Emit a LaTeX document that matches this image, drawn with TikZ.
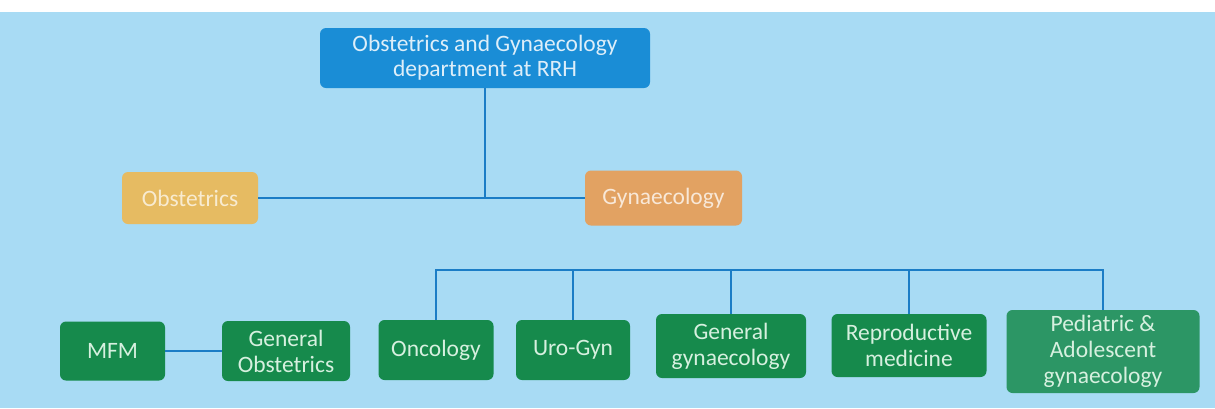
\documentclass[tikz,border=0pt]{standalone}
\usepackage{fontspec}
\setmainfont{Carlito}
\definecolor{bgblue}{HTML}{A8DBF4}
\definecolor{topblue}{HTML}{1A8DD6}
\definecolor{linec}{HTML}{1B7DC6}
\definecolor{obsc}{HTML}{E6BB62}
\definecolor{gync}{HTML}{E2A262}
\definecolor{greenc}{HTML}{168A4C}
\definecolor{greentext}{HTML}{D6F0DF}
\begin{document}
\begin{tikzpicture}[x=1pt,y=-1pt,
  box/.style={rounded corners=6pt, align=center, inner sep=1pt, font=\fontsize{23.5}{26}\selectfont},
  topbox/.style={box, fill=topblue, text=white!85!topblue, font=\fontsize{23.5}{25}\selectfont},
  midbox/.style={box},
  leaf/.style={box, fill=greenc, text=greentext},
  conn/.style={draw=linec, line width=2pt}]
\useasboundingbox (0,0) rectangle (1215,408);
\fill[bgblue] (0,0) rectangle (1215,408);
\fill[white] (0,0) rectangle (1215,12);
\node[topbox, minimum width=330, minimum height=60] (top) at (485,58) {Obstetrics and Gynaecology\\department at RRH};
\node[midbox, fill=obsc, text=obsc!30!white, minimum width=136, minimum height=52] (obs) at (190,198) {Obstetrics};
\node[midbox, fill=gync, text=gync!25!white, minimum width=157, minimum height=55] (gyn) at (663.5,198) {Gynaecology};
\node[leaf, minimum width=105, minimum height=59] (mfm) at (112.5,351) {MFM};
\node[leaf, minimum width=128, minimum height=60] (genobs) at (286,351) {General\\Obstetrics};
\node[leaf, minimum width=115, minimum height=60] (onc) at (436,350) {Oncology};
\node[leaf, minimum width=114, minimum height=60] (uro) at (573,350) {Uro-Gyn};
\node[leaf, minimum width=150, minimum height=64] (gengyn) at (731,346) {General\\gynaecology};
\node[leaf, minimum width=155, minimum height=63] (repro) at (909,345.5) {Reproductive\\medicine};
\node[leaf, fill=greenc!85!bgblue, minimum width=193, minimum height=83] (ped) at (1103,351.5) {Pediatric \&\\Adolescent\\gynaecology};
\coordinate (bus) at (0,270);
\draw[conn] (top.south) -- (top.south |- obs.east);
\draw[conn] (obs.east) -- (gyn.west);
\draw[conn] (mfm.east) -- (genobs.west);
\draw[conn] (onc.north) -- (onc.north |- bus) -- (ped.north |- bus) -- (ped.north);
\draw[conn] (uro.north) -- (uro.north |- bus);
\draw[conn] (gengyn.north) -- (gengyn.north |- bus);
\draw[conn] (repro.north) -- (repro.north |- bus);
\end{tikzpicture}
\end{document}
